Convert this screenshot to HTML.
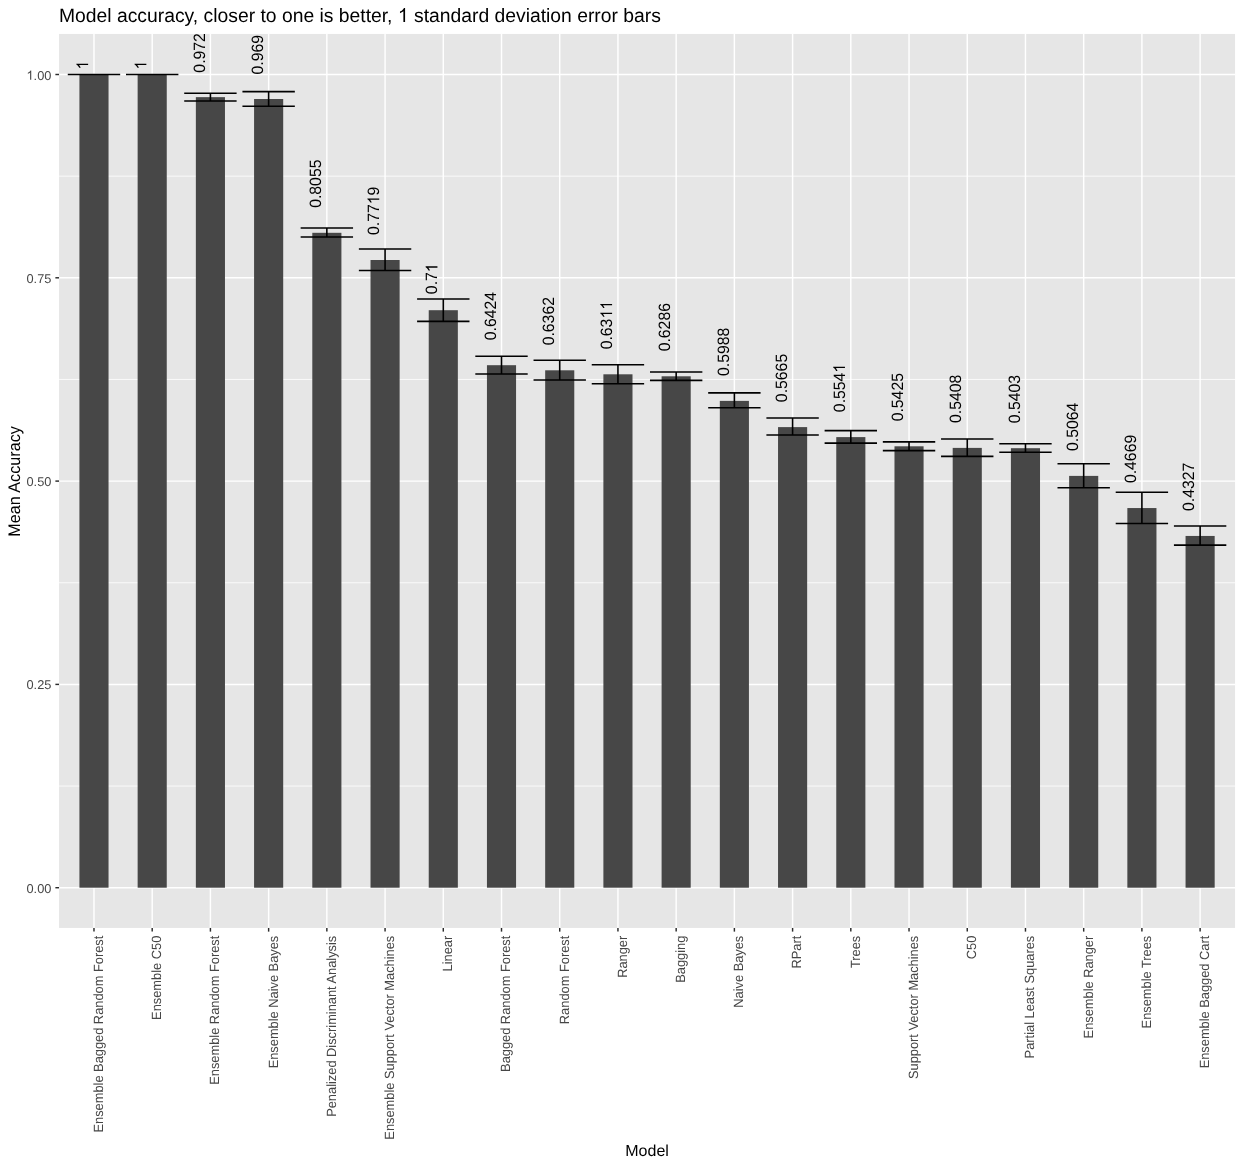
<!DOCTYPE html>
<html><head><meta charset="utf-8"><title>Model accuracy</title>
<style>
html,body{margin:0;padding:0;background:#fff;}
body{width:1243px;height:1167px;overflow:hidden;}
svg{display:block;filter:grayscale(1);}
text{font-family:"Liberation Sans",sans-serif;text-rendering:geometricPrecision;}
.ax{font-size:12.8px;fill:#464646;}
.lb{font-size:15.8px;fill:#000;}
.tt{font-size:16px;fill:#000;}
</style></head><body>
<svg width="1243" height="1167" viewBox="0 0 1243 1167">
<rect x="0" y="0" width="1243" height="1167" fill="#fff"/>
<defs><clipPath id="pc"><rect x="59.05" y="33.95" width="1176.0" height="894.0"/></clipPath></defs>
<rect x="59.05" y="33.95" width="1176.00" height="894.00" fill="#E6E6E6"/>
<g clip-path="url(#pc)">
<g stroke="#fff" stroke-width="0.8">
<line x1="59.05" x2="1235.05" y1="786.05" y2="786.05"/>
<line x1="59.05" x2="1235.05" y1="582.75" y2="582.75"/>
<line x1="59.05" x2="1235.05" y1="379.45" y2="379.45"/>
<line x1="59.05" x2="1235.05" y1="176.15" y2="176.15"/>
</g>
<g stroke="#fff" stroke-width="1.45">
<line x1="59.05" x2="1235.05" y1="887.70" y2="887.70"/>
<line x1="59.05" x2="1235.05" y1="684.40" y2="684.40"/>
<line x1="59.05" x2="1235.05" y1="481.10" y2="481.10"/>
<line x1="59.05" x2="1235.05" y1="277.80" y2="277.80"/>
<line x1="59.05" x2="1235.05" y1="74.50" y2="74.50"/>
<line x1="93.98" x2="93.98" y1="33.95" y2="927.95"/>
<line x1="152.20" x2="152.20" y1="33.95" y2="927.95"/>
<line x1="210.42" x2="210.42" y1="33.95" y2="927.95"/>
<line x1="268.63" x2="268.63" y1="33.95" y2="927.95"/>
<line x1="326.85" x2="326.85" y1="33.95" y2="927.95"/>
<line x1="385.07" x2="385.07" y1="33.95" y2="927.95"/>
<line x1="443.29" x2="443.29" y1="33.95" y2="927.95"/>
<line x1="501.51" x2="501.51" y1="33.95" y2="927.95"/>
<line x1="559.72" x2="559.72" y1="33.95" y2="927.95"/>
<line x1="617.94" x2="617.94" y1="33.95" y2="927.95"/>
<line x1="676.16" x2="676.16" y1="33.95" y2="927.95"/>
<line x1="734.38" x2="734.38" y1="33.95" y2="927.95"/>
<line x1="792.59" x2="792.59" y1="33.95" y2="927.95"/>
<line x1="850.81" x2="850.81" y1="33.95" y2="927.95"/>
<line x1="909.03" x2="909.03" y1="33.95" y2="927.95"/>
<line x1="967.25" x2="967.25" y1="33.95" y2="927.95"/>
<line x1="1025.47" x2="1025.47" y1="33.95" y2="927.95"/>
<line x1="1083.68" x2="1083.68" y1="33.95" y2="927.95"/>
<line x1="1141.90" x2="1141.90" y1="33.95" y2="927.95"/>
<line x1="1200.12" x2="1200.12" y1="33.95" y2="927.95"/>
</g>
<g fill="#474747">
<rect x="79.43" y="74.50" width="29.11" height="813.20"/>
<rect x="137.64" y="74.50" width="29.11" height="813.20"/>
<rect x="195.86" y="97.15" width="29.11" height="790.55"/>
<rect x="254.08" y="99.00" width="29.11" height="788.70"/>
<rect x="312.30" y="232.80" width="29.11" height="654.90"/>
<rect x="370.52" y="260.00" width="29.11" height="627.70"/>
<rect x="428.73" y="310.20" width="29.11" height="577.50"/>
<rect x="486.95" y="365.20" width="29.11" height="522.50"/>
<rect x="545.17" y="370.30" width="29.11" height="517.40"/>
<rect x="603.39" y="374.30" width="29.11" height="513.40"/>
<rect x="661.60" y="376.30" width="29.11" height="511.40"/>
<rect x="719.82" y="400.90" width="29.11" height="486.80"/>
<rect x="778.04" y="427.10" width="29.11" height="460.60"/>
<rect x="836.26" y="437.10" width="29.11" height="450.60"/>
<rect x="894.48" y="446.30" width="29.11" height="441.40"/>
<rect x="952.69" y="447.90" width="29.11" height="439.80"/>
<rect x="1010.91" y="448.20" width="29.11" height="439.50"/>
<rect x="1069.13" y="475.90" width="29.11" height="411.80"/>
<rect x="1127.35" y="508.05" width="29.11" height="379.65"/>
<rect x="1185.56" y="535.95" width="29.11" height="351.75"/>
</g>
<g stroke="#000" stroke-width="1.6" fill="none">
<path d="M67.78 74.50H120.18M93.98 74.50V74.50M67.78 74.50H120.18"/>
<path d="M126.00 74.50H178.40M152.20 74.50V74.50M126.00 74.50H178.40"/>
<path d="M184.22 93.20H236.61M210.42 93.20V101.05M184.22 101.05H236.61"/>
<path d="M242.44 91.60H294.83M268.63 91.60V106.30M242.44 106.30H294.83"/>
<path d="M300.65 228.05H353.05M326.85 228.05V237.00M300.65 237.00H353.05"/>
<path d="M358.87 249.00H411.27M385.07 249.00V270.50M358.87 270.50H411.27"/>
<path d="M417.09 299.00H469.49M443.29 299.00V321.40M417.09 321.40H469.49"/>
<path d="M475.31 356.20H527.70M501.51 356.20V374.00M475.31 374.00H527.70"/>
<path d="M533.53 360.25H585.92M559.72 360.25V379.95M533.53 379.95H585.92"/>
<path d="M591.74 364.70H644.14M617.94 364.70V383.80M591.74 383.80H644.14"/>
<path d="M649.96 372.05H702.36M676.16 372.05V380.40M649.96 380.40H702.36"/>
<path d="M708.18 392.90H760.57M734.38 392.90V407.80M708.18 407.80H760.57"/>
<path d="M766.40 418.00H818.79M792.59 418.00V435.00M766.40 435.00H818.79"/>
<path d="M824.61 430.60H877.01M850.81 430.60V443.10M824.61 443.10H877.01"/>
<path d="M882.83 441.90H935.23M909.03 441.90V450.60M882.83 450.60H935.23"/>
<path d="M941.05 439.00H993.45M967.25 439.00V456.40M941.05 456.40H993.45"/>
<path d="M999.27 443.80H1051.66M1025.47 443.80V452.30M999.27 452.30H1051.66"/>
<path d="M1057.49 463.70H1109.88M1083.68 463.70V487.80M1057.49 487.80H1109.88"/>
<path d="M1115.70 492.30H1168.10M1141.90 492.30V523.50M1115.70 523.50H1168.10"/>
<path d="M1173.92 526.00H1226.32M1200.12 526.00V545.15M1173.92 545.15H1226.32"/>
</g>
<g transform="translate(88.13 69.55) rotate(-90) scale(1 1.04)"><path fill="#000" transform="translate(0.00 0) scale(0.007715 -0.007715)" d="M763 0H583V1147Q518 1085 412.5 1023T223 930V1104Q374 1175 487 1276T647 1472H763Z"/></g>
<g transform="translate(146.35 69.55) rotate(-90) scale(1 1.04)"><path fill="#000" transform="translate(0.00 0) scale(0.007715 -0.007715)" d="M763 0H583V1147Q518 1085 412.5 1023T223 930V1104Q374 1175 487 1276T647 1472H763Z"/></g>
<g transform="translate(204.57 72.65) rotate(-90) scale(1 1.04)"><text x="0.00" y="0" style="font-size:15.8px;fill:#000">0.972</text></g>
<g transform="translate(262.78 74.50) rotate(-90) scale(1 1.04)"><text x="0.00" y="0" style="font-size:15.8px;fill:#000">0.969</text></g>
<g transform="translate(321.00 207.84) rotate(-90) scale(1 1.04)"><text x="0.00" y="0" style="font-size:15.8px;fill:#000">0.8055</text></g>
<g transform="translate(379.22 235.04) rotate(-90) scale(1 1.04)"><text x="0.00" y="0" style="font-size:15.8px;fill:#000">0.77</text><path fill="#000" transform="translate(30.75 0) scale(0.007715 -0.007715)" d="M763 0H583V1147Q518 1085 412.5 1023T223 930V1104Q374 1175 487 1276T647 1472H763Z"/><text x="39.53" y="0" style="font-size:15.8px;fill:#000">9</text></g>
<g transform="translate(437.44 294.13) rotate(-90) scale(1 1.04)"><text x="0.00" y="0" style="font-size:15.8px;fill:#000">0.7</text><path fill="#000" transform="translate(21.96 0) scale(0.007715 -0.007715)" d="M763 0H583V1147Q518 1085 412.5 1023T223 930V1104Q374 1175 487 1276T647 1472H763Z"/></g>
<g transform="translate(495.66 340.24) rotate(-90) scale(1 1.04)"><text x="0.00" y="0" style="font-size:15.8px;fill:#000">0.6424</text></g>
<g transform="translate(553.87 345.34) rotate(-90) scale(1 1.04)"><text x="0.00" y="0" style="font-size:15.8px;fill:#000">0.6362</text></g>
<g transform="translate(612.09 349.34) rotate(-90) scale(1 1.04)"><text x="0.00" y="0" style="font-size:15.8px;fill:#000">0.63</text><path fill="#000" transform="translate(30.75 0) scale(0.007715 -0.007715)" d="M763 0H583V1147Q518 1085 412.5 1023T223 930V1104Q374 1175 487 1276T647 1472H763Z"/><path fill="#000" transform="translate(39.53 0) scale(0.007715 -0.007715)" d="M763 0H583V1147Q518 1085 412.5 1023T223 930V1104Q374 1175 487 1276T647 1472H763Z"/></g>
<g transform="translate(670.31 351.34) rotate(-90) scale(1 1.04)"><text x="0.00" y="0" style="font-size:15.8px;fill:#000">0.6286</text></g>
<g transform="translate(728.53 375.94) rotate(-90) scale(1 1.04)"><text x="0.00" y="0" style="font-size:15.8px;fill:#000">0.5988</text></g>
<g transform="translate(786.74 402.14) rotate(-90) scale(1 1.04)"><text x="0.00" y="0" style="font-size:15.8px;fill:#000">0.5665</text></g>
<g transform="translate(844.96 412.14) rotate(-90) scale(1 1.04)"><text x="0.00" y="0" style="font-size:15.8px;fill:#000">0.554</text><path fill="#000" transform="translate(39.53 0) scale(0.007715 -0.007715)" d="M763 0H583V1147Q518 1085 412.5 1023T223 930V1104Q374 1175 487 1276T647 1472H763Z"/></g>
<g transform="translate(903.18 421.34) rotate(-90) scale(1 1.04)"><text x="0.00" y="0" style="font-size:15.8px;fill:#000">0.5425</text></g>
<g transform="translate(961.40 422.94) rotate(-90) scale(1 1.04)"><text x="0.00" y="0" style="font-size:15.8px;fill:#000">0.5408</text></g>
<g transform="translate(1019.62 423.24) rotate(-90) scale(1 1.04)"><text x="0.00" y="0" style="font-size:15.8px;fill:#000">0.5403</text></g>
<g transform="translate(1077.83 450.94) rotate(-90) scale(1 1.04)"><text x="0.00" y="0" style="font-size:15.8px;fill:#000">0.5064</text></g>
<g transform="translate(1136.05 483.09) rotate(-90) scale(1 1.04)"><text x="0.00" y="0" style="font-size:15.8px;fill:#000">0.4669</text></g>
<g transform="translate(1194.27 510.99) rotate(-90) scale(1 1.04)"><text x="0.00" y="0" style="font-size:15.8px;fill:#000">0.4327</text></g>
</g>
<g stroke="#2b2b2b" stroke-width="1.45">
<line x1="55.38" x2="59.05" y1="887.70" y2="887.70"/>
<line x1="55.38" x2="59.05" y1="684.40" y2="684.40"/>
<line x1="55.38" x2="59.05" y1="481.10" y2="481.10"/>
<line x1="55.38" x2="59.05" y1="277.80" y2="277.80"/>
<line x1="55.38" x2="59.05" y1="74.50" y2="74.50"/>
<line x1="93.98" x2="93.98" y1="927.95" y2="931.62"/>
<line x1="152.20" x2="152.20" y1="927.95" y2="931.62"/>
<line x1="210.42" x2="210.42" y1="927.95" y2="931.62"/>
<line x1="268.63" x2="268.63" y1="927.95" y2="931.62"/>
<line x1="326.85" x2="326.85" y1="927.95" y2="931.62"/>
<line x1="385.07" x2="385.07" y1="927.95" y2="931.62"/>
<line x1="443.29" x2="443.29" y1="927.95" y2="931.62"/>
<line x1="501.51" x2="501.51" y1="927.95" y2="931.62"/>
<line x1="559.72" x2="559.72" y1="927.95" y2="931.62"/>
<line x1="617.94" x2="617.94" y1="927.95" y2="931.62"/>
<line x1="676.16" x2="676.16" y1="927.95" y2="931.62"/>
<line x1="734.38" x2="734.38" y1="927.95" y2="931.62"/>
<line x1="792.59" x2="792.59" y1="927.95" y2="931.62"/>
<line x1="850.81" x2="850.81" y1="927.95" y2="931.62"/>
<line x1="909.03" x2="909.03" y1="927.95" y2="931.62"/>
<line x1="967.25" x2="967.25" y1="927.95" y2="931.62"/>
<line x1="1025.47" x2="1025.47" y1="927.95" y2="931.62"/>
<line x1="1083.68" x2="1083.68" y1="927.95" y2="931.62"/>
<line x1="1141.90" x2="1141.90" y1="927.95" y2="931.62"/>
<line x1="1200.12" x2="1200.12" y1="927.95" y2="931.62"/>
</g>
<g transform="translate(26.47 893.20)"><text x="0.00" y="0" style="font-size:12.8px;fill:#464646">0.00</text></g>
<g transform="translate(26.47 688.80)"><text x="0.00" y="0" style="font-size:12.8px;fill:#464646">0.25</text></g>
<g transform="translate(26.47 485.50)"><text x="0.00" y="0" style="font-size:12.8px;fill:#464646">0.50</text></g>
<g transform="translate(26.47 283.20)"><text x="0.00" y="0" style="font-size:12.8px;fill:#464646">0.75</text></g>
<g transform="translate(26.47 79.70)"><path fill="#464646" transform="translate(0.00 0) scale(0.006250 -0.006250)" d="M763 0H583V1147Q518 1085 412.5 1023T223 930V1104Q374 1175 487 1276T647 1472H763Z"/><text x="7.12" y="0" style="font-size:12.8px;fill:#464646">.00</text></g>
<text class="ax" style="font-size:12.84px" text-anchor="end" transform="translate(102.88 935.72) rotate(-90) scale(1 1.04)">Ensemble Bagged Random Forest</text>
<text class="ax" style="font-size:12.84px" text-anchor="end" transform="translate(161.10 935.72) rotate(-90) scale(1 1.04)">Ensemble C50</text>
<text class="ax" style="font-size:12.84px" text-anchor="end" transform="translate(219.32 935.72) rotate(-90) scale(1 1.04)">Ensemble Random Forest</text>
<text class="ax" style="font-size:12.84px" text-anchor="end" transform="translate(277.53 935.72) rotate(-90) scale(1 1.04)">Ensemble Naive Bayes</text>
<text class="ax" style="font-size:12.84px" text-anchor="end" transform="translate(335.75 935.72) rotate(-90) scale(1 1.04)">Penalized Discriminant Analysis</text>
<text class="ax" style="font-size:12.84px" text-anchor="end" transform="translate(393.97 935.72) rotate(-90) scale(1 1.04)">Ensemble Support Vector Machines</text>
<text class="ax" style="font-size:12.84px" text-anchor="end" transform="translate(452.19 935.72) rotate(-90) scale(1 1.04)">Linear</text>
<text class="ax" style="font-size:12.84px" text-anchor="end" transform="translate(510.41 935.72) rotate(-90) scale(1 1.04)">Bagged Random Forest</text>
<text class="ax" style="font-size:12.84px" text-anchor="end" transform="translate(568.62 935.72) rotate(-90) scale(1 1.04)">Random Forest</text>
<text class="ax" style="font-size:12.84px" text-anchor="end" transform="translate(626.84 935.72) rotate(-90) scale(1 1.04)">Ranger</text>
<text class="ax" style="font-size:12.84px" text-anchor="end" transform="translate(685.06 935.72) rotate(-90) scale(1 1.04)">Bagging</text>
<text class="ax" style="font-size:12.84px" text-anchor="end" transform="translate(743.28 935.72) rotate(-90) scale(1 1.04)">Naive Bayes</text>
<text class="ax" style="font-size:12.84px" text-anchor="end" transform="translate(801.49 935.72) rotate(-90) scale(1 1.04)">RPart</text>
<text class="ax" style="font-size:12.84px" text-anchor="end" transform="translate(859.71 935.72) rotate(-90) scale(1 1.04)">Trees</text>
<text class="ax" style="font-size:12.84px" text-anchor="end" transform="translate(917.93 935.72) rotate(-90) scale(1 1.04)">Support Vector Machines</text>
<text class="ax" style="font-size:12.84px" text-anchor="end" transform="translate(976.15 935.72) rotate(-90) scale(1 1.04)">C50</text>
<text class="ax" style="font-size:12.84px" text-anchor="end" transform="translate(1034.37 935.72) rotate(-90) scale(1 1.04)">Partial Least Squares</text>
<text class="ax" style="font-size:12.84px" text-anchor="end" transform="translate(1092.58 935.72) rotate(-90) scale(1 1.04)">Ensemble Ranger</text>
<text class="ax" style="font-size:12.84px" text-anchor="end" transform="translate(1150.80 935.72) rotate(-90) scale(1 1.04)">Ensemble Trees</text>
<text class="ax" style="font-size:12.84px" text-anchor="end" transform="translate(1209.02 935.72) rotate(-90) scale(1 1.04)">Ensemble Bagged Cart</text>
<text x="59.0" y="22" style="font-size:19.32px;fill:#000">Model accuracy, closer to one is better,</text>
<path fill="#000" transform="translate(397.88 22) scale(0.009434 -0.009434)" d="M763 0H583V1147Q518 1085 412.5 1023T223 930V1104Q374 1175 487 1276T647 1472H763Z"/>
<text x="413.99" y="22" style="font-size:19.32px;fill:#000">standard deviation error bars</text>
<text class="tt" text-anchor="middle" x="647.05" y="1156">Model</text>
<text class="tt" style="font-size:16.16px" text-anchor="middle" transform="translate(19.65 481.45) rotate(-90) scale(1 1.04)">Mean Accuracy</text>
</svg></body></html>
